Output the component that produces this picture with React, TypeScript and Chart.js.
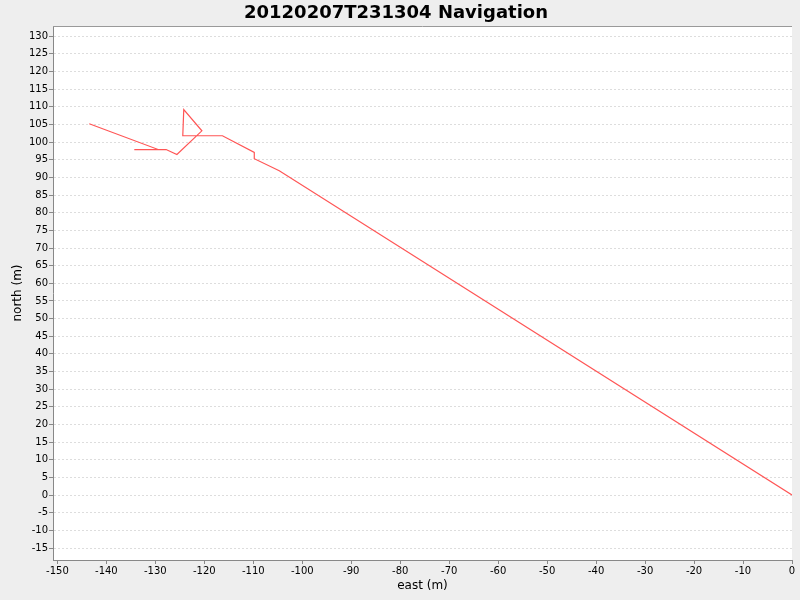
import React, { useEffect, useRef } from "react";
import { Chart, registerables } from "chart.js";

Chart.register(...registerables);

// track points, east / north in metres
const eastM = [0, -104.7, -109.8, -109.8, -116.3, -124.4, -124.2, -120.5, -125.6, -127.8, -134.3, -129.4, -143.5];
const northM = [0, 91.9, 95.3, 97.1, 101.8, 101.8, 109.2, 103.2, 96.5, 97.9, 97.9, 97.9, 105.2];

const xTicks = [-150, -140, -130, -120, -110, -100, -90, -80, -70, -60, -50, -40, -30, -20, -10, 0];
const yTicks = [-15, -10, -5, 0, 5, 10, 15, 20, 25, 30, 35, 40, 45, 50, 55, 60, 65, 70, 75, 80, 85, 90, 95, 100, 105, 110, 115, 120, 125, 130];

const FONT = "'DejaVu Sans', sans-serif";

// white plot background + top outline
const plotBackground = {
  id: "plotBackground",
  beforeDraw: (chart: any) => {
    const { ctx, chartArea } = chart;
    ctx.save();
    ctx.fillStyle = "#ffffff";
    ctx.fillRect(chartArea.left, chartArea.top, chartArea.right - chartArea.left, chartArea.bottom - chartArea.top);
    ctx.restore();
  },
  afterDraw: (chart: any) => {
    const { ctx, chartArea } = chart;
    ctx.save();
    ctx.strokeStyle = "#999999";
    ctx.lineWidth = 1;
    ctx.beginPath();
    ctx.moveTo(chartArea.left, Math.round(chartArea.top) + 0.5);
    ctx.lineTo(chartArea.right, Math.round(chartArea.top) + 0.5);
    ctx.stroke();
    ctx.restore();
  },
};

const NavigationChart: React.FC = () => {
  const canvasRef = useRef<HTMLCanvasElement | null>(null);
  const chartRef = useRef<Chart | null>(null);

  useEffect(() => {
    document.body.style.margin = "0";
    if (chartRef.current) chartRef.current.destroy();
    if (!canvasRef.current) return;

    chartRef.current = new Chart(canvasRef.current, {
      type: "line",
      data: {
        datasets: [
          {
            label: "track",
            data: eastM.map((x, i) => ({ x, y: northM[i] })),
            borderColor: "#ff5555",
            borderWidth: 1.2,
            pointRadius: 0,
            tension: 0,
            fill: false,
          },
        ],
      },
      options: {
        responsive: true,
        maintainAspectRatio: false,
        animation: false,
        layout: { padding: { left: 0, right: 8, top: 0, bottom: 0 } },
        plugins: {
          legend: { display: false },
          tooltip: { enabled: false },
          title: {
            display: true,
            text: "20120207T231304 Navigation",
            color: "#000",
            font: { family: FONT, size: 18, weight: "bold" },
            padding: { top: 3, bottom: 1.4 },
          },
        },
        scales: {
          x: {
            type: "linear",
            position: "bottom",
            min: -150.9,
            max: 0,
            afterBuildTicks: (axis: any) => {
              axis.ticks = xTicks.map((v) => ({ value: v }));
            },
            afterFit: (axis: any) => {
              axis.height = 40;
            },
            grid: {
              drawOnChartArea: false,
              drawTicks: true,
              tickLength: 4,
              tickColor: "#888888",
            },
            border: { color: "#888888", width: 1 },
            ticks: {
              color: "#000",
              font: { family: FONT, size: 10 },
              padding: 1,
              maxRotation: 0,
              autoSkip: false,
            },
            title: {
              display: true,
              text: "east (m)",
              color: "#000",
              font: { family: FONT, size: 12 },
              padding: { top: 0, bottom: 7 },
            },
          },
          y: {
            type: "linear",
            min: -18.4,
            max: 132.9,
            afterBuildTicks: (axis: any) => {
              axis.ticks = yTicks.map((v) => ({ value: v }));
            },
            afterFit: (axis: any) => {
              axis.width = 53;
            },
            grid: {
              color: "#dddddd",
              lineWidth: 1,
              drawTicks: true,
              tickLength: 4,
              tickColor: "#888888",
              tickBorderDash: [],
            },
            border: { color: "#888888", width: 1, dash: [2, 2] },
            ticks: {
              color: "#000",
              font: { family: FONT, size: 10 },
              padding: 1,
              autoSkip: false,
            },
            title: {
              display: true,
              text: "north (m)",
              color: "#000",
              font: { family: FONT, size: 12 },
              padding: { top: 11, bottom: 0 },
            },
          },
        },
      },
      plugins: [plotBackground],
    });

    return () => {
      if (chartRef.current) {
        chartRef.current.destroy();
        chartRef.current = null;
      }
    };
  }, []);

  return (
    <div style={{ width: 800, height: 600, background: "#eeeeee", position: "relative" }}>
      <canvas ref={canvasRef} />
    </div>
  );
};

export default function App() {
  return <NavigationChart />;
}
